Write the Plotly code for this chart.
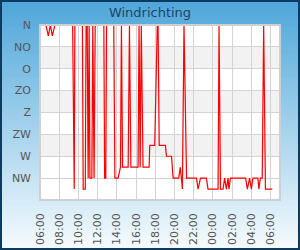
import plotly.graph_objects as go

# ---- data ----
times = [
    "2024-05-01 06:00", "2024-05-01 06:37", "2024-05-01 06:52", "2024-05-01 07:05",
    "2024-05-01 07:17", "2024-05-01 07:33", "2024-05-01 09:24", "2024-05-01 09:34",
    "2024-05-01 09:38", "2024-05-01 10:25", "2024-05-01 10:30", "2024-05-01 10:43",
    "2024-05-01 10:48", "2024-05-01 10:55", "2024-05-01 11:01", "2024-05-01 11:07",
    "2024-05-01 11:12", "2024-05-01 11:24", "2024-05-01 11:30", "2024-05-01 11:38",
    "2024-05-01 11:45", "2024-05-01 12:39", "2024-05-01 12:44", "2024-05-01 12:51",
    "2024-05-01 12:56", "2024-05-01 13:41", "2024-05-01 13:48", "2024-05-01 14:08",
    "2024-05-01 14:23", "2024-05-01 14:29", "2024-05-01 14:36", "2024-05-01 15:11",
    "2024-05-01 15:19", "2024-05-01 15:28", "2024-05-01 16:13", "2024-05-01 16:19",
    "2024-05-01 16:26", "2024-05-01 16:33", "2024-05-01 16:44", "2024-05-01 17:22",
    "2024-05-01 17:26", "2024-05-01 17:57", "2024-05-01 18:13", "2024-05-01 18:18",
    "2024-05-01 18:25", "2024-05-01 19:04", "2024-05-01 19:10", "2024-05-01 19:42",
    "2024-05-01 19:52", "2024-05-01 20:27", "2024-05-01 20:37", "2024-05-01 20:43",
    "2024-05-01 20:50", "2024-05-01 21:00", "2024-05-01 21:16", "2024-05-01 22:18",
    "2024-05-01 22:28", "2024-05-01 22:43", "2024-05-01 23:20", "2024-05-01 23:30",
    "2024-05-02 00:33", "2024-05-02 00:39", "2024-05-02 00:48", "2024-05-02 01:04",
    "2024-05-02 01:14", "2024-05-02 01:25", "2024-05-02 01:35", "2024-05-02 01:41",
    "2024-05-02 01:50", "2024-05-02 03:25", "2024-05-02 03:36", "2024-05-02 03:50",
    "2024-05-02 04:01", "2024-05-02 04:11", "2024-05-02 04:42", "2024-05-02 04:48",
    "2024-05-02 04:57", "2024-05-02 05:09", "2024-05-02 05:18", "2024-05-02 05:29",
    "2024-05-02 06:12",
]
directions = [
    0, 0, 22.5, 0,
    22.5, 0, 0, 337.5,
    0, 0, 337.5, 337.5,
    0, 0, 315, 0,
    315, 315, 0, 315,
    0, 0, 315, 315,
    0, 0, 315, 315,
    292.5, 0, 292.5, 292.5,
    0, 292.5, 292.5, 0,
    292.5, 0, 292.5, 292.5,
    247.5, 247.5, 0, 0,
    247.5, 247.5, 270, 270,
    315, 315, 292.5, 315,
    337.5, 0, 315, 315,
    337.5, 315, 315, 337.5,
    337.5, 0, 337.5, 337.5,
    315, 337.5, 315, 337.5,
    315, 315, 337.5, 315,
    337.5, 315, 315, 337.5,
    315, 315, 0, 337.5,
    337.5,
]
dir_labels = ["N", "NO", "O", "ZO", "Z", "ZW", "W", "NW"]
dir_degrees = [0, 45, 90, 135, 180, 225, 270, 315]
x_start = "2024-05-01 06:00"
x_end = "2024-05-02 07:00"

W, H = 300, 250
L, R, T, B = 40, 20, 25, 50
PW, PH = W - L - R, H - T - B


def px2x(px):
    return (px - L) / PW


def py2y(py):
    return (H - B - py) / PH


shapes = []
# background gradient
n = 125
top = (78, 166, 217)
bot = (246, 251, 254)
for i in range(n):
    f = i / (n - 1)
    c = tuple(round(top[k] + (bot[k] - top[k]) * f) for k in range(3))
    y0 = i * H / n
    y1 = (i + 1) * H / n + 0.6
    shapes.append(dict(type="rect", xref="paper", yref="paper",
                       x0=px2x(0), x1=px2x(W), y0=py2y(y1), y1=py2y(y0),
                       fillcolor="rgb(%d,%d,%d)" % c, line=dict(width=0),
                       layer="below"))
# plot area background
shapes.append(dict(type="rect", xref="paper", yref="paper", x0=0, x1=1, y0=0, y1=1,
                   fillcolor="white", line=dict(width=0), layer="below"))
# alternate bands
for k in range(1, 7, 2):
    shapes.append(dict(type="rect", xref="paper", yref="y", x0=0, x1=1,
                       y0=dir_degrees[k], y1=dir_degrees[k + 1],
                       fillcolor="#f2f2f2", line=dict(width=0), layer="below"))
# plot border (above the series)
shapes.append(dict(type="rect", xref="paper", yref="paper", x0=0, x1=1, y0=0, y1=1,
                   fillcolor="rgba(0,0,0,0)", line=dict(color="#cfcfcf", width=2),
                   layer="above"))
# outer border
shapes.append(dict(type="rect", xref="paper", yref="paper",
                   x0=px2x(1), x1=px2x(W - 1), y0=py2y(H - 1), y1=py2y(1),
                   fillcolor="rgba(0,0,0,0)", line=dict(color="#0d3a5f", width=2),
                   layer="above"))

fig = go.Figure()
fig.add_trace(go.Scatter(x=times, y=directions, mode="lines",
                         line=dict(color="#ff0000", width=1.2), showlegend=False,
                         hoverinfo="skip"))

fig.update_layout(
    width=W, height=H,
    margin=dict(l=L, r=R, t=T, b=B, pad=0, autoexpand=False),
    paper_bgcolor="white", plot_bgcolor="white",
    font=dict(family="DejaVu Sans", size=11, color="#555555"),
    title=dict(text="Windrichting", x=0.5, xanchor="center", y=1 - 12 / H,
               yanchor="middle", yref="container",
               font=dict(family="DejaVu Sans", size=13, color="#1f4468")),
    shapes=shapes,
    showlegend=False,
)
fig.update_xaxes(type="date", range=[x_start, x_end], dtick=2 * 3600 * 1000,
                 tick0="2024-05-01 06:00", tickformat="%H:%M", tickangle=-90,
                 showgrid=True, gridcolor="#d3d3d3", gridwidth=1,
                 zeroline=False, showline=False, ticks="", automargin=False,
                 ticklabelstandoff=10,
                 tickfont=dict(family="DejaVu Sans", size=11, color="#555555"))
fig.update_yaxes(range=[360, 0], tickvals=dir_degrees, ticktext=dir_labels,
                 showgrid=True, gridcolor="#d3d3d3", gridwidth=1,
                 zeroline=False, showline=False, ticks="", automargin=False,
                 ticklabelstandoff=8,
                 tickfont=dict(family="DejaVu Sans", size=11, color="#555555"))

fig.write_html("out.html", config={"displayModeBar": False})
